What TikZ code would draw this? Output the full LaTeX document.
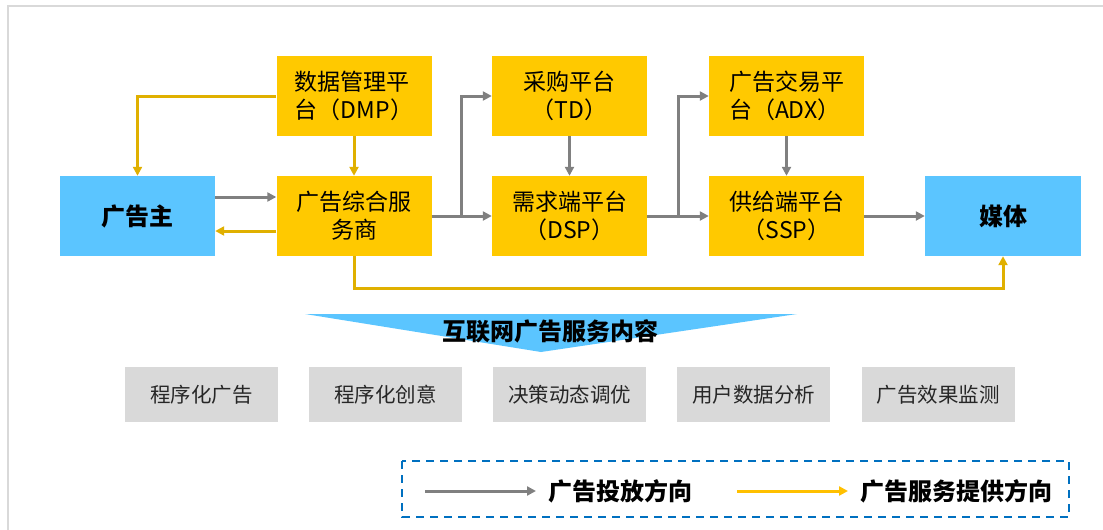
\documentclass[tikz,border=0pt]{standalone}
\usepackage{fontspec}
\setmainfont{Noto Sans CJK SC}
\usetikzlibrary{arrows.meta}
\definecolor{boxyellow}{RGB}{255,201,0}
\definecolor{boxblue}{RGB}{91,197,255}
\definecolor{lineyellow}{RGB}{224,176,0}
\definecolor{legyellow}{RGB}{255,192,0}
\definecolor{linegray}{RGB}{128,128,128}
\definecolor{graybox}{RGB}{217,217,217}
\definecolor{dashblue}{RGB}{0,112,192}
\tikzset{
  ybox/.style={fill=boxyellow, minimum width=155pt, minimum height=80pt, inner sep=0pt, font=\fontsize{23}{28}\selectfont, align=center},
  bbox/.style={fill=boxblue, minimum width=155pt, minimum height=80pt, inner sep=0pt, font=\fontsize{24}{28}\selectfont\bfseries},
  gbox/.style={fill=graybox, minimum width=153pt, minimum height=55pt, inner sep=0pt, font=\fontsize{20.5}{24}\selectfont, text=black!85},
  garrow/.style={draw=linegray, line width=3pt, -{Triangle[length=9pt,width=9pt]}},
  yarrow/.style={draw=lineyellow, line width=3pt, -{Triangle[length=9pt,width=9pt]}},
  legtext/.style={anchor=west, font=\fontsize{24}{28}\selectfont\bfseries},
}
\begin{document}
\begin{tikzpicture}[x=1pt,y=-1pt]
\useasboundingbox (0,0) rectangle (1103,530);
\draw[black!15, line width=2pt] (8,530) -- (8,6) -- (1103,6);
% main nodes
\node[bbox] (adv) at (137.5,216) {广告主};
\node[ybox, align=left] (dmp) at (354,96) {数据管理平\\台（DMP）};
\node[ybox] (svc) at (354,216) {广告综合服\\务商};
\node[ybox] (td) at (569.5,96) {采购平台\\（TD）};
\node[ybox] (dsp) at (569.5,216) {需求端平台\\（DSP）};
\node[ybox, align=left] (adx) at (786.5,96) {广告交易平\\台（ADX）};
\node[ybox] (ssp) at (786.5,216) {供给端平台\\（SSP）};
\node[bbox, minimum width=156pt] (media) at (1003,216) {媒体};
% connectors
\draw[garrow] ([yshift=19pt]adv.east) -- ([yshift=19pt]svc.west);
\draw[yarrow] ([yshift=-15pt]svc.west) -- ([yshift=-15pt]adv.east);
\draw[yarrow] (dmp.west) -| (adv.north);
\draw[yarrow] (dmp.south) -- (svc.north);
\draw[garrow] (svc.east) -- (dsp.west);
\coordinate (b1) at (461,216);
\draw[garrow] (b1) |- (td.west);
\draw[garrow] (td.south) -- (dsp.north);
\draw[garrow] (dsp.east) -- (ssp.west);
\coordinate (b2) at (678,216);
\draw[garrow] (b2) |- (adx.west);
\draw[garrow] (adx.south) -- (ssp.north);
\draw[garrow] (ssp.east) -- (media.west);
\draw[yarrow] (svc.south) -- ++(0,32) -| (media.south);
% chevron
\fill[boxblue] (305,314) -- (797,314) -- (541,352) -- cycle;
\node[font=\fontsize{24}{28}\selectfont\bfseries] (title) at (550,331) {互联网广告服务内容};
% gray boxes
\node[gbox] (g1) at (201.5,394.5) {程序化广告};
\node[gbox] (g2) at (385.5,394.5) {程序化创意};
\node[gbox] (g3) at (569.5,394.5) {决策动态调优};
\node[gbox] (g4) at (753.5,394.5) {用户数据分析};
\node[gbox] (g5) at (938,394.5) {广告效果监测};
% legend
\draw[dashblue, line width=2pt, dash pattern=on 8pt off 6pt] (402,461) rectangle (1069,517);
\coordinate (l1a) at (425,491);
\coordinate (l1b) at (536,491);
\draw[garrow] (l1a) -- (l1b);
\node[legtext] (lt1) at (545,491) {广告投放方向};
\coordinate (l2a) at (737,491);
\coordinate (l2b) at (848,491);
\draw[yarrow, draw=legyellow] (l2a) -- (l2b);
\node[legtext] (lt2) at (857,491) {广告服务提供方向};
\end{tikzpicture}
\end{document}
